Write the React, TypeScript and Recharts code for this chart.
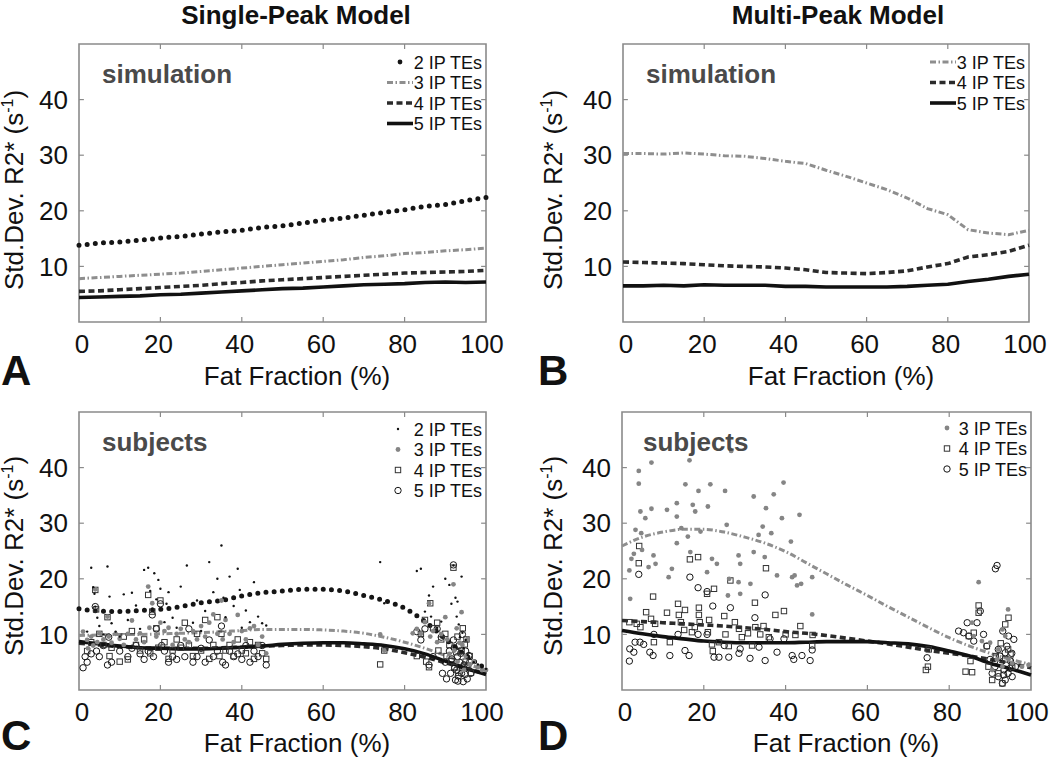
import { ComposedChart, Line, Scatter, XAxis, YAxis, ReferenceArea, ReferenceLine } from 'recharts';

// fat fraction grid (%) shared by every curve
const FAT_FRACTION = [0, 5, 10, 15, 20, 25, 30, 35, 40, 45, 50, 55, 60, 65, 70, 75, 80, 85, 90, 95, 100];

// A: simulation, single-peak model
const SIM_SP_2 = [13.8, 14.2, 14.4, 14.7, 15.1, 15.4, 15.8, 16.2, 16.5, 17.0, 17.3, 17.8, 18.3, 18.7, 19.2, 19.7, 20.2, 20.8, 21.1, 21.8, 22.4];
const SIM_SP_3 = [7.8, 8.0, 8.2, 8.4, 8.6, 8.8, 9.1, 9.4, 9.7, 10.0, 10.3, 10.6, 10.9, 11.2, 11.6, 11.9, 12.3, 12.5, 12.8, 13.0, 13.3];
const SIM_SP_4 = [5.5, 5.6, 5.8, 6.0, 6.2, 6.4, 6.6, 6.9, 7.1, 7.4, 7.6, 7.8, 8.0, 8.2, 8.4, 8.6, 8.8, 8.9, 9.0, 9.1, 9.3];
const SIM_SP_5 = [4.4, 4.5, 4.6, 4.7, 4.9, 5.0, 5.2, 5.4, 5.6, 5.8, 6.0, 6.1, 6.3, 6.5, 6.7, 6.8, 6.9, 7.1, 7.2, 7.1, 7.2];

// B: simulation, multi-peak model
const SIM_MP_3 = [30.3, 30.3, 30.2, 30.4, 30.2, 29.9, 29.8, 29.4, 28.9, 28.5, 27.3, 26.2, 25.0, 23.8, 22.3, 20.4, 19.3, 16.6, 16.0, 15.7, 16.5];
const SIM_MP_4 = [10.8, 10.7, 10.6, 10.5, 10.3, 10.1, 10.0, 9.9, 9.7, 9.4, 8.9, 8.8, 8.7, 8.9, 9.2, 9.9, 10.5, 11.7, 12.1, 12.7, 13.8];
const SIM_MP_5 = [6.5, 6.5, 6.6, 6.5, 6.7, 6.6, 6.6, 6.6, 6.4, 6.4, 6.3, 6.3, 6.3, 6.3, 6.4, 6.6, 6.8, 7.3, 7.7, 8.2, 8.6];

// C: subjects fit, single-peak model
const FIT_SP_2 = [14.6, 14.2, 14.1, 14.3, 14.5, 15.0, 15.7, 16.1, 16.9, 17.5, 17.8, 18.1, 18.1, 17.8, 17.0, 16.1, 14.7, 12.3, 9.2, 6.2, 3.8];
const FIT_SP_3 = [9.8, 9.9, 10.0, 10.0, 10.1, 10.2, 10.3, 10.5, 10.7, 10.9, 10.9, 10.9, 10.8, 10.6, 10.2, 9.5, 8.6, 7.5, 6.2, 4.8, 3.5];
const FIT_SP_4 = [8.4, 8.1, 7.8, 7.6, 7.5, 7.5, 7.5, 7.6, 7.7, 7.9, 8.0, 8.1, 8.1, 8.0, 7.8, 7.4, 6.7, 5.9, 4.9, 3.9, 2.9];
const FIT_SP_5 = [8.7, 8.3, 7.9, 7.6, 7.5, 7.4, 7.4, 7.5, 7.7, 7.9, 8.2, 8.4, 8.5, 8.5, 8.3, 8.0, 7.4, 6.5, 5.2, 3.9, 2.8];

// D: subjects fit, multi-peak model
const FIT_MP_3 = [25.9, 27.5, 28.4, 28.9, 28.9, 28.4, 27.5, 26.4, 24.9, 22.9, 20.9, 18.9, 17.0, 15.0, 13.1, 11.2, 9.4, 7.9, 6.6, 5.5, 4.6];
const FIT_MP_4 = [12.5, 12.3, 12.1, 11.9, 11.7, 11.5, 11.2, 10.9, 10.5, 10.2, 9.8, 9.3, 8.8, 8.3, 7.7, 7.1, 6.6, 6.1, 5.5, 4.8, 4.0];
const FIT_MP_5 = [10.7, 10.1, 9.6, 9.2, 8.8, 8.6, 8.5, 8.5, 8.5, 8.6, 8.7, 8.7, 8.7, 8.5, 8.3, 7.8, 7.0, 6.1, 4.8, 3.8, 2.7];

type Pt = [number, number];

// C: subject measurements [fat fraction, std dev]
const SUBJ_SP_2: Pt[] = [
  [2, 10.5], [3, 22], [3.5, 18.5], [3.8, 17.3], [4, 15], [4.5, 13], [5, 11.5], [6, 10], [7, 22.2], [7.5, 16.8], [8, 12], [9, 10.5],
  [10, 9.6], [11, 17.2], [12, 12.6], [13, 17.5], [14, 15.2], [15, 11], [16, 21.6], [17, 22], [17.5, 17.8], [18, 14.6], [18.5, 21],
  [19, 16.3], [19.5, 19.8], [20, 18.2], [21, 12.2], [21.5, 15.5], [22, 17.6], [23, 13], [24, 11.2], [25, 18.6], [26, 15.2], [26.5, 22.4],
  [28, 12.1], [29, 16.1], [30, 10.6], [31, 14.2], [32, 23], [33, 17.6], [34, 20], [35, 26], [35.5, 16.6], [36, 13.1], [37, 20.4],
  [38, 15.1], [39, 21.8], [39.5, 18], [40, 11.2], [41, 14.3], [42, 12.2], [43, 19.4], [44, 13.2], [45, 12], [46, 11.6], [74, 23],
  [75, 15.6], [83, 21.4], [84, 21.8], [85, 14.1], [86, 17], [86.5, 13.2], [87, 18.6], [88, 11.2], [89, 12.3], [90, 20], [91, 18.9],
  [91.5, 15.5], [92, 22.4], [92.5, 16.6], [92.8, 13.2], [93, 15.9], [93.3, 11.8], [93.6, 9.5], [94, 20.4], [94.2, 10.3], [94.5, 7.5],
  [95, 9], [95.5, 6.3], [96, 5.6], [97, 5], [98, 4.6], [99, 4.1], [100, 3.8],
];
const SUBJ_SP_3: Pt[] = [
  [1, 10.5], [2, 9], [2.2, 7.5], [3, 9.6], [3.5, 8], [4, 18.1], [4.5, 8.6], [5, 10.2], [6, 9.1], [7, 13.2], [7.3, 9.6], [8, 8.5],
  [9, 10.1], [10, 9.2], [11, 8.1], [12, 10.1], [13, 12.5], [14, 9.1], [15, 10.2], [16, 8.6], [17, 18.6], [17.3, 11.2], [18, 15.6],
  [19, 9.6], [20, 12.1], [21, 10.6], [22, 11.2], [23, 8.1], [24, 10.1], [25, 11], [26, 9.1], [27, 8.6], [28, 10.6], [29, 9.1],
  [30, 11.5], [31, 9.6], [32, 12.1], [33, 13.6], [34, 10.1], [35, 16.1], [35.3, 9.1], [36, 12.6], [37, 10.1], [38, 8.6], [39, 13.5],
  [40, 10.6], [41, 9.1], [42, 11.1], [43, 11.5], [44, 8.1], [45, 9.6], [46, 6.6], [74, 10], [75, 7.1], [82, 10.2], [83, 11], [84, 10.1],
  [85, 12.2], [86, 15.6], [86.3, 9.6], [87, 10.6], [88, 8.6], [89, 10.1], [90, 13.1], [90.5, 9.1], [91, 6.5], [92, 19], [92.2, 7.1],
  [92.8, 11.1], [93, 5.1], [93.5, 8.5], [94, 14], [94.2, 8.1], [94.6, 3.6], [95, 6.1], [95.5, 9.2], [96, 4.6], [97, 5.1], [98, 4.1],
  [99, 3.6], [100, 3.6],
];
const SUBJ_SP_4: Pt[] = [
  [2, 7], [3, 8.6], [4, 18], [4.2, 14.5], [5, 10.1], [6, 8.1], [7, 13.1], [7.5, 6.1], [8, 7.6], [10, 5.1], [11, 9.6], [12, 5.5],
  [13, 10.6], [14, 8.1], [15, 7.1], [16, 9.1], [17, 17.1], [17.5, 6.6], [18, 14.1], [19, 11.1], [19.5, 7.6], [20, 16.1], [21, 8.6],
  [22, 5.6], [23, 7.1], [24, 9.1], [25, 7.6], [26, 12.1], [27, 8.1], [28, 6.1], [29, 10.1], [30, 7.1], [31, 12.6], [32, 5.6], [33, 8.1],
  [34, 13.1], [34.5, 6.1], [35, 10.1], [36, 7.1], [37, 8.1], [38, 6.1], [39, 9.1], [40, 7.1], [41, 6.6], [42, 8.6], [43, 5.6], [44, 8.1],
  [45, 6.6], [46, 5.6], [74, 4.6], [75, 7.1], [83, 6.1], [84, 10.1], [85, 12.6], [85.3, 5.1], [86, 4.1], [86.3, 15.6], [87, 11.1],
  [88, 12.1], [88.3, 7.1], [89, 9.1], [90, 10.1], [90.3, 6.1], [91, 8.1], [92, 22], [92.2, 4.1], [93, 9.6], [93.2, 3.1], [94, 7.1],
  [94.3, 11.1], [95, 5.1], [95.2, 9.1], [96, 6.1], [96.3, 3.1], [91.5, 5.2], [92.7, 6.8], [94.8, 8.2], [95.6, 4.4],
];
const SUBJ_SP_5: Pt[] = [
  [1, 4], [1.5, 6], [2, 5], [3, 6.5], [4, 15], [4.3, 7], [5, 6], [6, 8], [7, 4.5], [7.3, 9.5], [8, 5], [10, 7], [12, 6], [13, 7.5],
  [14, 8], [15, 6.5], [16, 5.5], [17, 7], [18, 13.5], [18.3, 6], [19, 11], [20, 15.5], [20.3, 8], [21, 7], [22, 5], [23, 6], [24, 5.5],
  [25, 8], [26, 6], [27, 11], [28, 5], [29, 6], [30, 7.5], [31, 5], [32, 9], [33, 6], [34, 7], [35, 11.5], [35.3, 5], [36, 4.5], [37, 7],
  [38, 6], [39, 6.5], [40, 5.5], [41, 8], [42, 5], [43, 7], [44, 6], [45, 8], [46, 4.5], [83, 10.5], [84, 9], [85, 11], [86, 4.5],
  [87, 6], [88, 11], [89, 9.5], [89.3, 3], [90, 5], [90.3, 2], [91, 7], [91.3, 3], [92, 22.5], [92, 9], [92.3, 4], [92.5, 1.8], [93, 6],
  [93.2, 2.5], [93.4, 8], [93.5, 5], [94, 3], [94.2, 10], [94.4, 1.5], [94.6, 4.5], [95, 7], [95.2, 4], [95.4, 2], [96, 5], [96.3, 3],
  [91.6, 5.6], [92.8, 3.6], [93.8, 6.6], [94.9, 2.8], [95.8, 6.2], [93.1, 1.6], [92.2, 7.6],
];

// D: subject measurements [fat fraction, std dev]
const SUBJ_MP_3: Pt[] = [
  [2, 16.4], [1.8, 21.5], [2.3, 23.6], [2.9, 24.5], [3.3, 28.8], [4.1, 39.4], [4.1, 37.1], [4.5, 32.1], [4.7, 28.2], [4.9, 25.2],
  [5.7, 30.9], [6.5, 22.1], [7.2, 32.6], [7.2, 40.9], [7.7, 24.2], [8.2, 22.7], [11, 32.4], [11.4, 20.3], [12.2, 21.8], [13.4, 33.6],
  [13.4, 31.2], [13.4, 26.4], [14.5, 29.1], [15.5, 37], [16.1, 27.6], [16.5, 41.3], [16.7, 24.8], [17.3, 33.3], [17.9, 32.1],
  [18.7, 35.8], [19.2, 28.5], [20.8, 21.2], [21, 33], [21.6, 37], [22, 23.6], [23.2, 22.7], [25.2, 35.8], [25.6, 29.7], [25.9, 17],
  [26.2, 20], [26.7, 43], [28.5, 24.2], [28.5, 19.4], [28.9, 22.7], [28.9, 17.3], [31.4, 19.1], [32.2, 34.8], [32.2, 24.8], [33.4, 27.9],
  [34.4, 29.4], [34.9, 23.9], [35.2, 32.7], [36.5, 28.2], [37.1, 35.2], [37.9, 20.6], [39.1, 30.9], [39.5, 37.3], [41.3, 26.7],
  [41.6, 20.3], [42.2, 20.6], [42.8, 18.8], [43.4, 31.5], [43.8, 19.1], [46.5, 20.3], [46.5, 13.6], [87.2, 19.4], [85.6, 12.1],
  [86, 9.7], [88, 8.8], [90, 8.5], [92, 7.3], [93, 10.9], [93.7, 9.7], [94.4, 14.5], [94.5, 5.5], [95.4, 4.8], [97.8, 4.2],
  [99.4, 4.5], [91.7, 5.5], [93, 4.2], [90.5, 3.6],
];
const SUBJ_MP_4: Pt[] = [
  [1.8, 12.2], [4.2, 25.9], [4.1, 22.8], [3.6, 11.9], [4.5, 11.3], [5.9, 14], [7.6, 16.8], [7.1, 12.8], [7.8, 8.6], [8.1, 11.9],
  [11, 13.9], [11.7, 8.6], [13.7, 15.5], [13.9, 13.5], [14.4, 12.2], [15.4, 14.4], [15.2, 10.8], [16.6, 23.5], [17.1, 10.4],
  [17.8, 11.3], [18.6, 23.9], [18.8, 14.8], [18.8, 13.5], [19, 12.2], [20.8, 17.3], [21, 10.4], [21.3, 12.6], [22, 8.2], [22.2, 7],
  [22.5, 18.2], [23.7, 8.6], [25, 13.3], [25.3, 10], [26.1, 7.9], [26.5, 19.7], [27.6, 12.2], [28.6, 11], [29.3, 9.5], [30.8, 10.2],
  [31.8, 8], [32.5, 15.7], [32.6, 11.3], [33.8, 10], [34.6, 11.5], [35.2, 21.9], [35.9, 9.5], [37.5, 13.5], [39.6, 14.2], [40, 10],
  [42.4, 9.9], [43.6, 11.5], [46.5, 8], [46.6, 9.9], [74.3, 3.6], [74.8, 4.2], [75, 7.3], [84, 3.3], [85.6, 3.2], [85.2, 5.2],
  [84.8, 9.7], [86, 10.3], [87.2, 15.2], [87.2, 13.9], [89.2, 7.9], [89.6, 4.2], [90.5, 1.8], [92, 3], [93.7, 5.5], [94.5, 13],
  [93.7, 11.8], [94.4, 7.3], [95.4, 4.2], [93, 1.2], [91.4, 6.1], [92.6, 8.4], [95, 6.4],
];
const SUBJ_MP_5: Pt[] = [
  [1.8, 5.2], [1.9, 7.4], [2.9, 6.8], [4.1, 20.8], [3.2, 8.6], [4.4, 8.6], [5.3, 8.2], [6.8, 6.8], [7.6, 6.2], [7.8, 10], [11.7, 6.2],
  [13.7, 10], [15.4, 7.1], [16.4, 6.2], [16.6, 20.3], [18.6, 18.4], [18.6, 10], [20.8, 17.7], [20.8, 10], [22.2, 15.1], [22.5, 5.9],
  [23.7, 5.9], [25, 8], [26.1, 5.9], [26.5, 14.8], [28.6, 6.6], [28.9, 7.4], [31.3, 5.7], [32.5, 13], [33.5, 7.7], [35, 17.1], [35, 5.3],
  [36.2, 9.2], [37.9, 6.8], [39.6, 9.2], [41.6, 6.2], [42, 5.5], [44, 6.2], [46, 5.3], [46.5, 7.2], [74.6, 5.8], [82.3, 10.6],
  [83.5, 10.3], [84.4, 12.1], [84.8, 9.7], [86, 8.8], [86.8, 12.1], [87.6, 14.2], [88.4, 10], [89.2, 7.9], [90, 5.5], [90.5, 3],
  [91.3, 21.8], [91.7, 22.4], [92, 7.3], [92, 2.4], [92.5, 4.8], [93, 1.2], [93.1, 10.6], [93.4, 3.6], [93.7, 6.7], [94.1, 7.9],
  [94.4, 3], [94.5, 9.7], [95, 5.2], [95.4, 2.4], [95.8, 9.1], [96.2, 4.2], [93.7, 1.8], [91.2, 4.2], [92.4, 6.1], [94.9, 3.9],
  [93.3, 2.7], [95.3, 6.6],
];

const X_TICKS = [0, 20, 40, 60, 80, 100];
const Y_TICKS = [10, 20, 30, 40];
const LEGEND_LABELS: Record<string, string> = { te2: '2 IP TEs', te3: '3 IP TEs', te4: '4 IP TEs', te5: '5 IP TEs' };

const FONT = '"Liberation Sans", Arial, sans-serif';
const FRAME = '#8a8a8a';

const LINE_STYLE: Record<string, any> = {
  te2: { stroke: '#151515', strokeWidth: 5, strokeDasharray: '0 8.2', strokeLinecap: 'round' },
  te3: { stroke: '#8e8e8e', strokeWidth: 3, strokeDasharray: '6 2.5 1.5 2.5' },
  te4: { stroke: '#2b2b2b', strokeWidth: 3.6, strokeDasharray: '6 3.5' },
  te5: { stroke: '#111', strokeWidth: 3.6 },
};

const MARKERS: Record<string, (cx: number, cy: number) => JSX.Element> = {
  te2: (cx, cy) => <circle cx={cx} cy={cy} r={1.2} fill="#111" />,
  te3: (cx, cy) => <circle cx={cx} cy={cy} r={2.4} fill="#858585" />,
  te4: (cx, cy) => <rect x={cx - 2.7} y={cy - 2.7} width={5.4} height={5.4} fill="none" stroke="#333" strokeWidth={1} />,
  te5: (cx, cy) => <circle cx={cx} cy={cy} r={3.2} fill="none" stroke="#151515" strokeWidth={1} />,
};

function toRows(series: Record<string, number[]>) {
  return FAT_FRACTION.map((ff, i) => {
    const row: Record<string, number> = { ff };
    Object.keys(series).forEach(k => { row[k] = series[k][i]; });
    return row;
  });
}

const toPts = (pts: Pt[]) => pts.map(([ff, v]) => ({ ff, v }));

function XTick(p: any) {
  const v = p.payload.value;
  const dx = v === 0 ? 3 : v === 100 ? -4 : -2;
  return (
    <text x={p.x + dx} y={p.y} dy="0.71em" textAnchor="middle" fontSize={26} fill="#111" fontFamily={FONT}>{v}</text>
  );
}

interface PanelProps {
  left: number;
  top: number;
  axisWidth: number;
  marginRight: number;
  series: Record<string, number[]>;
  points?: Record<string, Pt[]>;
  smooth?: boolean;
}

function Panel({ left, top, axisWidth, marginRight, series, points = {}, smooth }: PanelProps) {
  const rows = toRows(series);
  return (
    <div style={{ position: 'absolute', left, top }}>
      <ComposedChart width={525} height={392} data={rows} margin={{ top: 44, right: marginRight, bottom: 8, left: 0 }}>
        <XAxis dataKey="ff" type="number" domain={[0, 100]} ticks={X_TICKS} interval={0} height={62}
          axisLine={false} tickLine={false} tickSize={0} tickMargin={13} tick={XTick} />
        <YAxis type="number" domain={[0, 50]} ticks={Y_TICKS} interval={0} width={axisWidth}
          axisLine={false} tickLine={false} tickSize={0} tickMargin={11}
          tick={{ fontSize: 26, fill: '#111', fontFamily: FONT }} />
        {Object.keys(points).map(k => (
          <Scatter key={k} data={toPts(points[k])} dataKey="v" isAnimationActive={false}
            shape={(p: any) => MARKERS[k](p.cx, p.cy)} />
        ))}
        {Object.keys(series).map(k => (
          <Line key={k} dataKey={k} type={smooth ? 'monotone' : 'linear'} dot={false} activeDot={false}
            {...LINE_STYLE[k]} isAnimationActive={false} />
        ))}
        {/* inward tick marks on all four sides of the box */}
        {X_TICKS.slice(1, -1).map(x => (
          <ReferenceLine key={`b${x}`} segment={[{ x, y: 0 }, { x, y: 0.9 }]} stroke={FRAME} strokeWidth={1.2} />
        ))}
        {X_TICKS.slice(1, -1).map(x => (
          <ReferenceLine key={`t${x}`} segment={[{ x, y: 50 }, { x, y: 49.1 }]} stroke={FRAME} strokeWidth={1.2} />
        ))}
        {Y_TICKS.map(y => (
          <ReferenceLine key={`l${y}`} segment={[{ x: 0, y }, { x: 1.2, y }]} stroke={FRAME} strokeWidth={1.2} />
        ))}
        {Y_TICKS.map(y => (
          <ReferenceLine key={`r${y}`} segment={[{ x: 100, y }, { x: 98.8, y }]} stroke={FRAME} strokeWidth={1.2} />
        ))}
        <ReferenceArea x1={0} x2={100} y1={0} y2={50} fill="none" stroke={FRAME} strokeWidth={1.6} ifOverflow="visible" />
      </ComposedChart>
    </div>
  );
}

function LegendBlock({ keys, right, y0, sampleX, markers }: { keys: string[]; right: number; y0: number; sampleX: number; markers?: boolean }) {
  return (
    <g>
      {keys.map((k, i) => {
        const y = y0 + i * 20.5;
        let sample;
        if (markers) sample = MARKERS[k](sampleX, y);
        else if (k === 'te2') sample = <circle cx={sampleX + 13} cy={y} r={2.4} fill="#151515" />;
        else sample = <line x1={sampleX} x2={sampleX + 26} y1={y} y2={y} {...LINE_STYLE[k]} />;
        return (
          <g key={k}>
            {sample}
            <text x={right} y={y + 6.5} textAnchor="end" fontSize={18} fill="#111">{LEGEND_LABELS[k]}</text>
          </g>
        );
      })}
    </g>
  );
}

function YLabel({ x, y }: { x: number; y: number }) {
  return (
    <text x={x} y={y} transform={`rotate(-90 ${x} ${y})`} textAnchor="middle" fontSize={26} fill="#111">
      Std.Dev. R2* (s<tspan dy={-10} fontSize={16}>-1</tspan><tspan dy={10}>)</tspan>
    </text>
  );
}

export default function App() {
  return (
    <div style={{ position: 'absolute', left: 0, top: 0, width: 1050, height: 760, background: '#fff', overflow: 'hidden', fontFamily: FONT }}>
      <Panel left={0} top={0} axisWidth={79} marginRight={39}
        series={{ te2: SIM_SP_2, te3: SIM_SP_3, te4: SIM_SP_4, te5: SIM_SP_5 }} />
      <Panel left={525} top={0} axisWidth={98} marginRight={21}
        series={{ te3: SIM_MP_3, te4: SIM_MP_4, te5: SIM_MP_5 }} />
      <Panel left={0} top={368} axisWidth={79} marginRight={39} smooth
        series={{ te2: FIT_SP_2, te3: FIT_SP_3, te4: FIT_SP_4, te5: FIT_SP_5 }}
        points={{ te5: SUBJ_SP_5, te4: SUBJ_SP_4, te3: SUBJ_SP_3, te2: SUBJ_SP_2 }} />
      <Panel left={525} top={368} axisWidth={97} marginRight={19} smooth
        series={{ te3: FIT_MP_3, te4: FIT_MP_4, te5: FIT_MP_5 }}
        points={{ te5: SUBJ_MP_5, te4: SUBJ_MP_4, te3: SUBJ_MP_3 }} />

      <svg width={1050} height={760} style={{ position: 'absolute', left: 0, top: 0, pointerEvents: 'none' }} fontFamily={FONT}>
        <text x={296} y={24} textAnchor="middle" fontSize={26} fontWeight="bold" fill="#111">Single-Peak Model</text>
        <text x={838} y={24} textAnchor="middle" fontSize={26} fontWeight="bold" fill="#111">Multi-Peak Model</text>

        <text x={1} y={385} fontSize={42} fontWeight="bold" fill="#111">A</text>
        <text x={538} y={385} fontSize={42} fontWeight="bold" fill="#111">B</text>
        <text x={1} y={750} fontSize={42} fontWeight="bold" fill="#111">C</text>
        <text x={538} y={750} fontSize={42} fontWeight="bold" fill="#111">D</text>

        <text x={297} y={385} textAnchor="middle" fontSize={26} fill="#111">Fat Fraction (%)</text>
        <text x={841} y={385} textAnchor="middle" fontSize={26} fill="#111">Fat Fraction (%)</text>
        <text x={297} y={752} textAnchor="middle" fontSize={26} fill="#111">Fat Fraction (%)</text>
        <text x={846} y={752} textAnchor="middle" fontSize={26} fill="#111">Fat Fraction (%)</text>

        <YLabel x={23} y={190} />
        <YLabel x={562} y={190} />
        <YLabel x={23} y={556} />
        <YLabel x={562} y={556} />

        <text x={102} y={83} fontSize={26} fontWeight="bold" fill="#4a4a4a">simulation</text>
        <text x={646} y={83} fontSize={26} fontWeight="bold" fill="#4a4a4a">simulation</text>
        <text x={102} y={451} fontSize={26} fontWeight="bold" fill="#4a4a4a">subjects</text>
        <text x={643} y={451} fontSize={26} fontWeight="bold" fill="#4a4a4a">subjects</text>

        <LegendBlock keys={['te2', 'te3', 'te4', 'te5']} right={482} y0={62} sampleX={387} />
        <LegendBlock keys={['te3', 'te4', 'te5']} right={1025} y0={62} sampleX={930} />
        <LegendBlock keys={['te2', 'te3', 'te4', 'te5']} right={482} y0={429} sampleX={398} markers />
        <LegendBlock keys={['te3', 'te4', 'te5']} right={1027} y0={428} sampleX={947} markers />
      </svg>
    </div>
  );
}
